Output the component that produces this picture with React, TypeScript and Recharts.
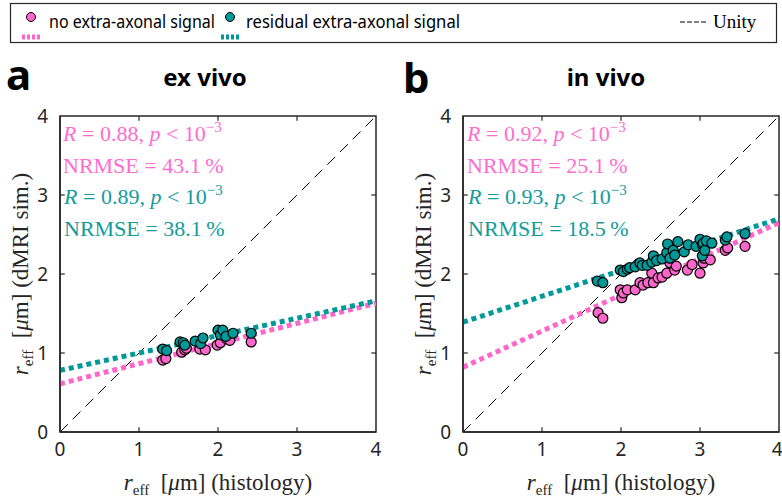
import React from 'react';
import { ComposedChart, Line, Scatter, XAxis, YAxis, ReferenceArea, ReferenceLine } from 'recharts';

const PINK = '#ff66cc';
const TEAL = '#009999';
const PINK_TEXT = '#ff6ccf';
const TEAL_TEXT = '#139c9c';
const INK = '#262626';
const TICKS = [0, 1, 2, 3, 4];
const INNER = [1, 2, 3];

// ex vivo (a)
const exVivoNoExtra = [
  [1.30, 0.91], [1.34, 0.93], [1.54, 1.01], [1.58, 1.04], [1.60, 1.06], [1.77, 1.05],
  [1.84, 1.04], [1.99, 1.10], [2.03, 1.13], [2.11, 1.18], [2.15, 1.16], [2.42, 1.14],
];
const exVivoResidual = [
  [1.30, 1.05], [1.35, 1.03], [1.52, 1.14], [1.56, 1.13], [1.58, 1.10], [1.71, 1.15],
  [1.78, 1.12], [1.81, 1.19], [2.00, 1.29], [2.03, 1.23], [2.06, 1.29], [2.10, 1.21],
  [2.19, 1.25], [2.42, 1.25],
];
const exVivoFitNoExtra = [[0, 0.61], [4, 1.63]];
const exVivoFitResidual = [[0, 0.78], [4, 1.66]];

// in vivo (b)
const inVivoNoExtra = [
  [1.71, 1.51], [1.77, 1.44], [1.99, 1.80], [2.01, 1.70], [2.03, 1.76], [2.08, 1.80],
  [2.18, 1.80], [2.24, 1.89], [2.28, 1.86], [2.34, 1.89], [2.39, 2.01], [2.41, 1.89],
  [2.47, 1.95], [2.52, 1.96], [2.58, 2.01], [2.62, 2.14], [2.68, 2.05], [2.70, 2.10],
  [2.84, 2.05], [2.90, 2.12], [3.00, 2.01], [3.04, 2.14], [3.05, 2.20], [3.13, 2.18],
  [3.32, 2.30], [3.35, 2.33], [3.57, 2.35],
];
const inVivoResidual = [
  [1.70, 1.91], [1.77, 1.89], [1.99, 2.05], [2.03, 2.03], [2.08, 2.06], [2.11, 2.08],
  [2.18, 2.09], [2.24, 2.14], [2.27, 2.11], [2.33, 2.11], [2.39, 2.15], [2.41, 2.23],
  [2.45, 2.17], [2.52, 2.19], [2.58, 2.27], [2.59, 2.38], [2.62, 2.20], [2.66, 2.30],
  [2.68, 2.24], [2.72, 2.41], [2.80, 2.28], [2.85, 2.37], [2.95, 2.35], [3.00, 2.44],
  [3.03, 2.37], [3.03, 2.23], [3.04, 2.39], [3.06, 2.30], [3.08, 2.42], [3.15, 2.39],
  [3.32, 2.43], [3.34, 2.47], [3.57, 2.51],
];
const inVivoFitNoExtra = [[0, 0.82], [4, 2.65]];
const inVivoFitResidual = [[0, 1.39], [4, 2.70]];

const unity = [[0, 0], [4, 4]];

const toPts = (arr: number[][]) => arr.map(([x, y]) => ({ x, y }));

const dot = (color: string) => (p: any) => (
  <circle cx={p.cx} cy={p.cy} r={5} fill={color} stroke="#000" strokeWidth={1.2} />
);

const SANS = '"Noto Sans", "DejaVu Sans", sans-serif';
const SERIF = '"Liberation Serif", "DejaVu Serif", serif';

interface PanelProps {
  left: number;
  width: number;
  marginRight: number;
  noExtra: number[][];
  residual: number[][];
  fitNoExtra: number[][];
  fitResidual: number[][];
}

const Panel: React.FC<PanelProps> = ({ left, width, marginRight, noExtra, residual, fitNoExtra, fitResidual }) => {
  const tickStyle = { fontFamily: SANS, fontSize: 19, fill: INK };
  return (
    <div style={{ position: 'absolute', left, top: 100 }}>
      <ComposedChart width={width} height={397} margin={{ top: 16, right: marginRight, bottom: 35, left: 10 }}>
        <XAxis type="number" dataKey="x" domain={[0, 4]} ticks={TICKS} tickLine={false} height={30}
          axisLine={{ stroke: INK, strokeWidth: 1.5 }} tick={tickStyle} tickMargin={5} allowDataOverflow />
        <YAxis type="number" dataKey="y" domain={[0, 4]} ticks={TICKS} tickLine={false} width={50}
          axisLine={{ stroke: INK, strokeWidth: 1.5 }} tick={tickStyle} tickMargin={6} allowDataOverflow />
        <ReferenceArea x1={0} x2={4} y1={0} y2={4} fill="none" stroke={INK} strokeWidth={1.5} />
        {INNER.map((t) => (
          <ReferenceLine key={'b' + t} segment={[{ x: t, y: 0 }, { x: t, y: 0.06 }]} stroke={INK} strokeWidth={1.2} />
        ))}
        {INNER.map((t) => (
          <ReferenceLine key={'t' + t} segment={[{ x: t, y: 4 }, { x: t, y: 3.94 }]} stroke={INK} strokeWidth={1.2} />
        ))}
        {INNER.map((t) => (
          <ReferenceLine key={'l' + t} segment={[{ x: 0, y: t }, { x: 0.06, y: t }]} stroke={INK} strokeWidth={1.2} />
        ))}
        {INNER.map((t) => (
          <ReferenceLine key={'r' + t} segment={[{ x: 4, y: t }, { x: 3.94, y: t }]} stroke={INK} strokeWidth={1.2} />
        ))}
        <Line data={toPts(unity)} dataKey="y" stroke="#000" strokeWidth={1} strokeDasharray="11 7"
          dot={false} activeDot={false} isAnimationActive={false} />
        <Scatter data={toPts(noExtra)} dataKey="y" shape={dot(PINK)} isAnimationActive={false} />
        <Scatter data={toPts(residual)} dataKey="y" shape={dot(TEAL)} isAnimationActive={false} />
        <Line data={toPts(fitNoExtra)} dataKey="y" stroke={PINK} strokeWidth={5} strokeDasharray="5 4"
          dot={false} activeDot={false} isAnimationActive={false} />
        <Line data={toPts(fitResidual)} dataKey="y" stroke={TEAL} strokeWidth={5} strokeDasharray="5 4"
          dot={false} activeDot={false} isAnimationActive={false} />
      </ComposedChart>
    </div>
  );
};

const Stats: React.FC<{ x: number; y: number; color: string; r: string; nrmse: string }> = ({ x, y, color, r, nrmse }) => (
  <g fill={color} fontFamily={SERIF} fontSize={22}>
    <text x={x} y={y}>
      <tspan fontStyle="italic">R</tspan> = {r}, <tspan fontStyle="italic">p</tspan> &lt; 10
      <tspan dy={-9} fontSize={15}>−3</tspan>
    </text>
    <text x={x} y={y + 32}>NRMSE = {nrmse}{'\u2009'}%</text>
  </g>
);

const XLabel: React.FC<{ cx: number }> = ({ cx }) => (
  <text x={cx} y={490} textAnchor="middle" fontFamily={SERIF} fontSize={23} fill={INK}>
    <tspan fontStyle="italic">r</tspan>
    <tspan dy={5} fontSize={15}>eff</tspan>
    <tspan dy={-5}>{'\u00a0\u00a0['}</tspan>
    <tspan fontStyle="italic">μ</tspan>m] (histology)
  </text>
);

const YLabel: React.FC<{ x: number }> = ({ x }) => (
  <text x={0} y={0} transform={`translate(${x},274) rotate(-90)`} textAnchor="middle"
    fontFamily={SERIF} fontSize={23} fill={INK}>
    <tspan fontStyle="italic">r</tspan>
    <tspan dy={5} fontSize={15}>eff</tspan>
    <tspan dy={-5}>{'\u00a0\u00a0['}</tspan>
    <tspan fontStyle="italic">μ</tspan>m] (dMRI sim.)
  </text>
);

const LegendMark: React.FC<{ x: number; color: string }> = ({ x, color }) => (
  <g>
    <circle cx={x} cy={17} r={4.5} fill={color} stroke="#000" strokeWidth={1} />
    <line x1={x - 9} y1={37} x2={x + 9} y2={37} stroke={color} strokeWidth={5} strokeDasharray="3 2" />
  </g>
);

export default function App() {
  return (
    <div style={{ position: 'fixed', left: 0, top: 0, width: 782, height: 497, overflow: 'hidden', background: '#fff' }}>
      <Panel left={0} width={400} marginRight={24} noExtra={exVivoNoExtra} residual={exVivoResidual}
        fitNoExtra={exVivoFitNoExtra} fitResidual={exVivoFitResidual} />
      <Panel left={403} width={379} marginRight={3} noExtra={inVivoNoExtra} residual={inVivoResidual}
        fitNoExtra={inVivoFitNoExtra} fitResidual={inVivoFitResidual} />
      <svg width={782} height={497} style={{ position: 'absolute', left: 0, top: 0, pointerEvents: 'none' }}>
        <rect x={10.5} y={3.5} width={766} height={39} fill="#fff" stroke={INK} strokeWidth={1.2} />
        <LegendMark x={31} color={PINK} />
        <text x={49} y={28} fontFamily={SANS} fontSize={18} fill="#000" textLength={166} lengthAdjust="spacingAndGlyphs">no extra-axonal signal</text>
        <LegendMark x={230} color={TEAL} />
        <text x={246} y={28} fontFamily={SANS} fontSize={18} fill="#000" textLength={214} lengthAdjust="spacingAndGlyphs">residual extra-axonal signal</text>
        <line x1={680} y1={22} x2={706} y2={22} stroke="#000" strokeWidth={1} strokeDasharray="5 2" />
        <text x={713} y={28} fontFamily={SERIF} fontSize={19} fill="#000">Unity</text>

        <text x={6} y={90} fontFamily={SANS} fontSize={42} fontWeight={700} fill="#000">a</text>
        <text x={205} y={86} textAnchor="middle" fontFamily={SANS} fontSize={24} fontWeight={700} fill="#000">ex vivo</text>
        <text x={403} y={93} fontFamily={SANS} fontSize={42} fontWeight={700} fill="#000">b</text>
        <text x={606} y={86} textAnchor="middle" fontFamily={SANS} fontSize={24} fontWeight={700} fill="#000">in vivo</text>

        <Stats x={63} y={141} color={PINK_TEXT} r="0.88" nrmse="43.1" />
        <Stats x={64} y={204} color={TEAL_TEXT} r="0.89" nrmse="38.1" />
        <Stats x={467} y={141} color={PINK_TEXT} r="0.92" nrmse="25.1" />
        <Stats x={468} y={204} color={TEAL_TEXT} r="0.93" nrmse="18.5" />

        <XLabel cx={218} />
        <XLabel cx={621} />
        <YLabel x={28} />
        <YLabel x={431} />
      </svg>
    </div>
  );
}
